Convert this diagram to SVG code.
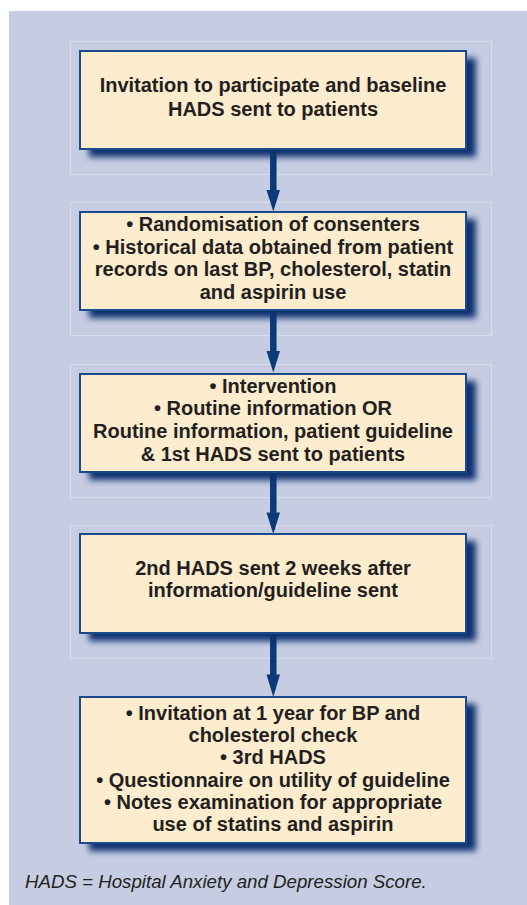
<svg xmlns="http://www.w3.org/2000/svg" width="527" height="905" viewBox="0 0 527 905">
  <style>
    .frame { fill: none; stroke: #d9ddec; stroke-width: 1; }
    .box { fill: #fdecce; stroke: #1b4a8a; stroke-width: 2; }
    .shadow { fill: #0d3270; filter: url(#blur); }
    .t { font-family: "Liberation Sans", Arial, sans-serif; font-weight: bold; font-size: 20px; fill: #231f20; text-anchor: middle; }
    .note { font-family: "Liberation Sans", Arial, sans-serif; font-style: italic; font-size: 18.7px; fill: #231f20; }
    .shaft { stroke: #0b3a78; stroke-width: 6.5; fill: none; }
    .head { fill: #0b3a78; }
  </style>
  <defs>
    <filter id="blur" x="-10%" y="-20%" width="120%" height="140%">
      <feGaussianBlur stdDeviation="3"/>
    </filter>
  </defs>
  <rect x="0" y="0" width="527" height="905" fill="#ffffff"/>
  <rect x="9" y="11" width="518" height="894" fill="#c6cce2"/>

  <g id="frames">
    <rect class="frame" x="70.5" y="41.5" width="421" height="133"/>
    <rect class="frame" x="70.5" y="202.5" width="421" height="133"/>
    <rect class="frame" x="70.5" y="364.5" width="421" height="133"/>
    <rect class="frame" x="70.5" y="525.5" width="421" height="133"/>
  </g>

  <g id="connectors">
    <line class="shaft" x1="273.3" y1="150" x2="273.3" y2="192"/>
    <polygon class="head" points="266.5,190 280,190 273.3,211.5"/>
    <line class="shaft" x1="273.3" y1="311" x2="273.3" y2="353"/>
    <polygon class="head" points="266.5,351 280,351 273.3,372.5"/>
    <line class="shaft" x1="273.3" y1="473" x2="273.3" y2="514"/>
    <polygon class="head" points="266.5,512.5 280,512.5 273.3,534"/>
    <line class="shaft" x1="273.3" y1="634" x2="273.3" y2="676"/>
    <polygon class="head" points="266.5,674.5 280,674.5 273.3,697"/>
  </g>

  <g id="node1">
    <rect class="shadow" x="89" y="58" width="387" height="99"/>
    <rect class="box" x="80" y="51" width="386" height="98"/>
    <text class="t" x="273" y="92">Invitation to participate and baseline</text>
    <text class="t" x="273" y="116">HADS sent to patients</text>
  </g>

  <g id="node2">
    <rect class="shadow" x="89" y="219" width="387" height="99"/>
    <rect class="box" x="80" y="212" width="386" height="98"/>
    <text class="t" x="273" y="231">• Randomisation of consenters</text>
    <text class="t" x="273" y="253.5">• Historical data obtained from patient</text>
    <text class="t" x="273" y="276">records on last BP, cholesterol, statin</text>
    <text class="t" x="273" y="298.5">and aspirin use</text>
  </g>

  <g id="node3">
    <rect class="shadow" x="89" y="381" width="387" height="99"/>
    <rect class="box" x="80" y="374" width="386" height="98"/>
    <text class="t" x="273" y="392.7">• Intervention</text>
    <text class="t" x="273" y="415.3">• Routine information OR</text>
    <text class="t" x="273" y="438.3">Routine information, patient guideline</text>
    <text class="t" x="273" y="460.8">&amp; 1st HADS sent to patients</text>
  </g>

  <g id="node4">
    <rect class="shadow" x="89" y="541" width="387" height="100"/>
    <rect class="box" x="80" y="534" width="386" height="99"/>
    <text class="t" x="273" y="575">2nd HADS sent 2 weeks after</text>
    <text class="t" x="273" y="597">information/guideline sent</text>
  </g>

  <g id="node5">
    <rect class="shadow" x="89" y="704" width="387" height="147"/>
    <rect class="box" x="80" y="697" width="386" height="146"/>
    <text class="t" x="273" y="720">• Invitation at 1 year for BP and</text>
    <text class="t" x="273" y="742.2">cholesterol check</text>
    <text class="t" x="273" y="764.4">• 3rd HADS</text>
    <text class="t" x="273" y="786.6">• Questionnaire on utility of guideline</text>
    <text class="t" x="273" y="808.8">• Notes examination for appropriate</text>
    <text class="t" x="273" y="831">use of statins and aspirin</text>
  </g>

  <text class="note" x="25" y="888">HADS = Hospital Anxiety and Depression Score.</text>
</svg>
